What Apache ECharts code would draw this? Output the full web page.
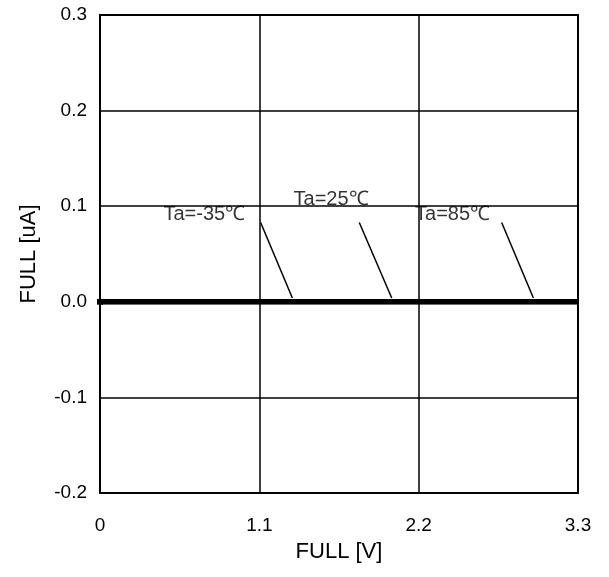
<!DOCTYPE html>
<html><head><meta charset="utf-8">
<script src="https://cdn.jsdelivr.net/npm/echarts@6/dist/echarts.min.js"></script>
<style>html,body{margin:0;padding:0;background:#fff}#c{width:609px;height:577px}</style>
</head><body><div id="c"></div>
<script>
// Data
const voltage = [0, 0.3, 0.6, 0.9, 1.2, 1.5, 1.8, 2.1, 2.4, 2.7, 3.0, 3.3];
const currentM35 = [0, 0, 0, 0, 0, 0, 0, 0, 0, 0, 0, 0];
const current25 = [0, 0, 0, 0, 0, 0, 0, 0, 0, 0, 0, 0];
const current85 = [0, 0, 0, 0, 0, 0, 0, 0, 0, 0, 0, 0];
const xTicks = [0, 1.1, 2.2, 3.3];
const yTicks = [-0.2, -0.1, 0.0, 0.1, 0.2, 0.3];
const labelNames = ['Ta=-35℃', 'Ta=25℃', 'Ta=85℃'];
const labelPos = [[0.72, 0.091], [1.595, 0.107], [2.434, 0.091]];
const leaderStart = [[1.109, 0.083], [1.790, 0.083], [2.773, 0.083]];
const leaderEnd = [[1.328, 0.004], [2.014, 0.004], [2.992, 0.004]];

const font = 'Arial, "Liberation Sans", sans-serif';
const chart = echarts.init(document.getElementById('c'));
const pair = (a, b) => a.map((v, i) => [v, b[i]]);
const series = [];
[currentM35, current25, current85].forEach((cur, i) => {
  const d = pair(voltage, cur).map((p, j) => j === 0 ? { value: p, symbol: 'rect', symbolSize: [6, 5] } : { value: p, symbol: 'none' });
  series.push({
    type: 'line', name: labelNames[i], data: d, showSymbol: true, symbol: 'none',
    itemStyle: { color: '#000' },
    lineStyle: { color: '#000', width: 5 }, silent: true, z: 5
  });
});
leaderStart.forEach((s, i) => {
  series.push({
    type: 'line', data: [s, leaderEnd[i]], showSymbol: false,
    lineStyle: { color: '#000', width: 1.5 }, silent: true, z: 4
  });
});
series.push({
  type: 'scatter', symbolSize: 0,
  data: labelPos.map((p, i) => ({ value: p, name: labelNames[i] })),
  label: { show: true, position: 'inside', formatter: p => p.name, color: '#000', fontSize: 20, fontFamily: font, textBorderWidth: 0 },
  z: 6
});
const borderAxis = { axisLine: { show: true, onZero: false, lineStyle: { color: '#000', width: 2 } }, axisTick: { show: false }, axisLabel: { show: false }, splitLine: { show: false } };
chart.setOption({
  animation: false,
  backgroundColor: '#fff',
  grid: { left: 100, right: 31, top: 15, bottom: 84, show: false, containLabel: false, outerBoundsMode: 'none' },
  xAxis: [{
    type: 'value', min: xTicks[0], max: xTicks[xTicks.length - 1], interval: 1.1,
    name: 'FULL [V]', nameLocation: 'middle', nameGap: 48,
    nameTextStyle: { color: '#000', fontSize: 22, fontFamily: font },
    axisLine: { show: true, onZero: false, lineStyle: { color: '#000', width: 2 } },
    axisTick: { show: false },
    axisLabel: { color: '#000', fontSize: 19, fontFamily: font, margin: 23, formatter: v => String(Math.round(v * 10) / 10) },
    splitLine: { show: true, lineStyle: { color: '#000', width: 1.5 } }
  }, Object.assign({ type: 'value', position: 'top', min: 0, max: 3.3 }, borderAxis)],
  yAxis: [{
    type: 'value', min: yTicks[0], max: yTicks[yTicks.length - 1], interval: 0.1,
    name: 'FULL [uA]', nameLocation: 'middle', nameGap: 60,
    nameTextStyle: { color: '#000', fontSize: 22, fontFamily: font },
    axisLine: { show: true, onZero: false, lineStyle: { color: '#000', width: 2 } },
    axisTick: { show: false },
    axisLabel: { color: '#000', fontSize: 19, fontFamily: font, margin: 13, formatter: v => v.toFixed(1) },
    splitLine: { show: true, lineStyle: { color: '#000', width: 1.5 } }
  }, Object.assign({ type: 'value', position: 'right', min: -0.2, max: 0.3 }, borderAxis)],
  series: series
});
</script></body></html>
